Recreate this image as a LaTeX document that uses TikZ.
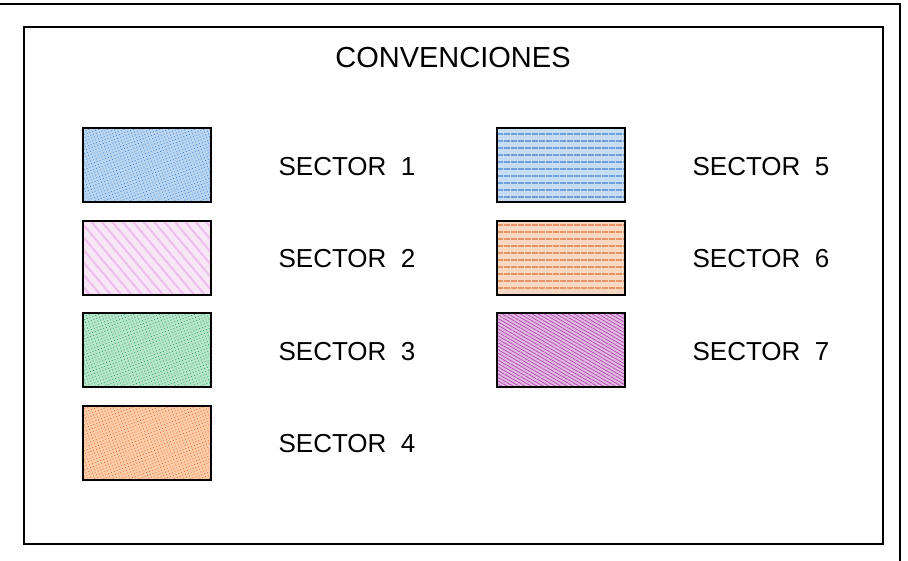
\documentclass[tikz,border=0pt]{standalone}
\usepackage{fontspec}
\setmainfont{Liberation Sans}
\usetikzlibrary{patterns.meta}
\definecolor{bA}{RGB}{186,212,240}\definecolor{bAd}{RGB}{60,140,220}
\definecolor{pA}{RGB}{248,230,246}\definecolor{pAd}{RGB}{236,190,236}
\definecolor{gA}{RGB}{184,228,202}\definecolor{gAd}{RGB}{40,170,100}
\definecolor{oA}{RGB}{252,204,170}\definecolor{oAd}{RGB}{240,110,40}
\definecolor{cA}{RGB}{200,220,242}\definecolor{cAd}{RGB}{60,130,210}
\definecolor{rA}{RGB}{248,216,194}\definecolor{rAd}{RGB}{220,110,50}
\definecolor{vA}{RGB}{226,186,226}\definecolor{vAd}{RGB}{176,70,176}
\begin{document}
\begin{tikzpicture}[x=1pt,y=-1pt,
  swatch/.style n args={3}{draw=black,line width=1.8pt,minimum width=128pt,minimum height=74pt,inner sep=0pt,
     preaction={fill=#1},preaction={pattern={#3},pattern color=#2}},
  lbl/.style={font=\fontsize{26}{30}\selectfont,inner sep=0pt},
  frameline/.style={line width=1.5pt}]
\useasboundingbox (0,0) rectangle (908,561);
\draw[frameline] (0,4) -- (900,4) -- (900,561);
\draw[frameline] (24,27) rectangle (883,544);
\node[inner sep=0pt,font=\fontsize{29}{33}\selectfont] (title) at (453,58) {CONVENCIONES};
% left column
\node[swatch={bA}{bAd}{Dots[radius=0.6pt,distance=3pt,angle=20]}] (s1) at (147,165) {};
\node[swatch={pA}{pAd}{Lines[angle=-50,distance=8pt,line width=2pt]}] (s2) at (147,258) {};
\node[swatch={gA}{gAd}{Dots[radius=0.6pt,distance=3pt,angle=20]}] (s3) at (147,350) {};
\node[swatch={oA}{oAd}{Dots[radius=0.6pt,distance=3pt,angle=20]}] (s4) at (147,443) {};
% right column
\node[swatch={cA}{cAd}{Lines[angle=0,distance=6.5pt,line width=1.2pt]}] (s5) at (561,165) {};
\node[swatch={rA}{rAd}{Lines[angle=0,distance=6.5pt,line width=1.2pt]}] (s6) at (561,258) {};
\node[swatch={vA}{vAd}{Lines[angle=-30,distance=3pt,line width=0.7pt]}] (s7) at (561,350) {};
% labels
\node[lbl] (l1) at (347,167) {SECTOR\ \ 1};
\node[lbl] (l2) at (347,259) {SECTOR\ \ 2};
\node[lbl] (l3) at (347,352) {SECTOR\ \ 3};
\node[lbl] (l4) at (347,444) {SECTOR\ \ 4};
\node[lbl] (l5) at (761,167) {SECTOR\ \ 5};
\node[lbl] (l6) at (761,259) {SECTOR\ \ 6};
\node[lbl] (l7) at (761,352) {SECTOR\ \ 7};
\end{tikzpicture}
\end{document}
